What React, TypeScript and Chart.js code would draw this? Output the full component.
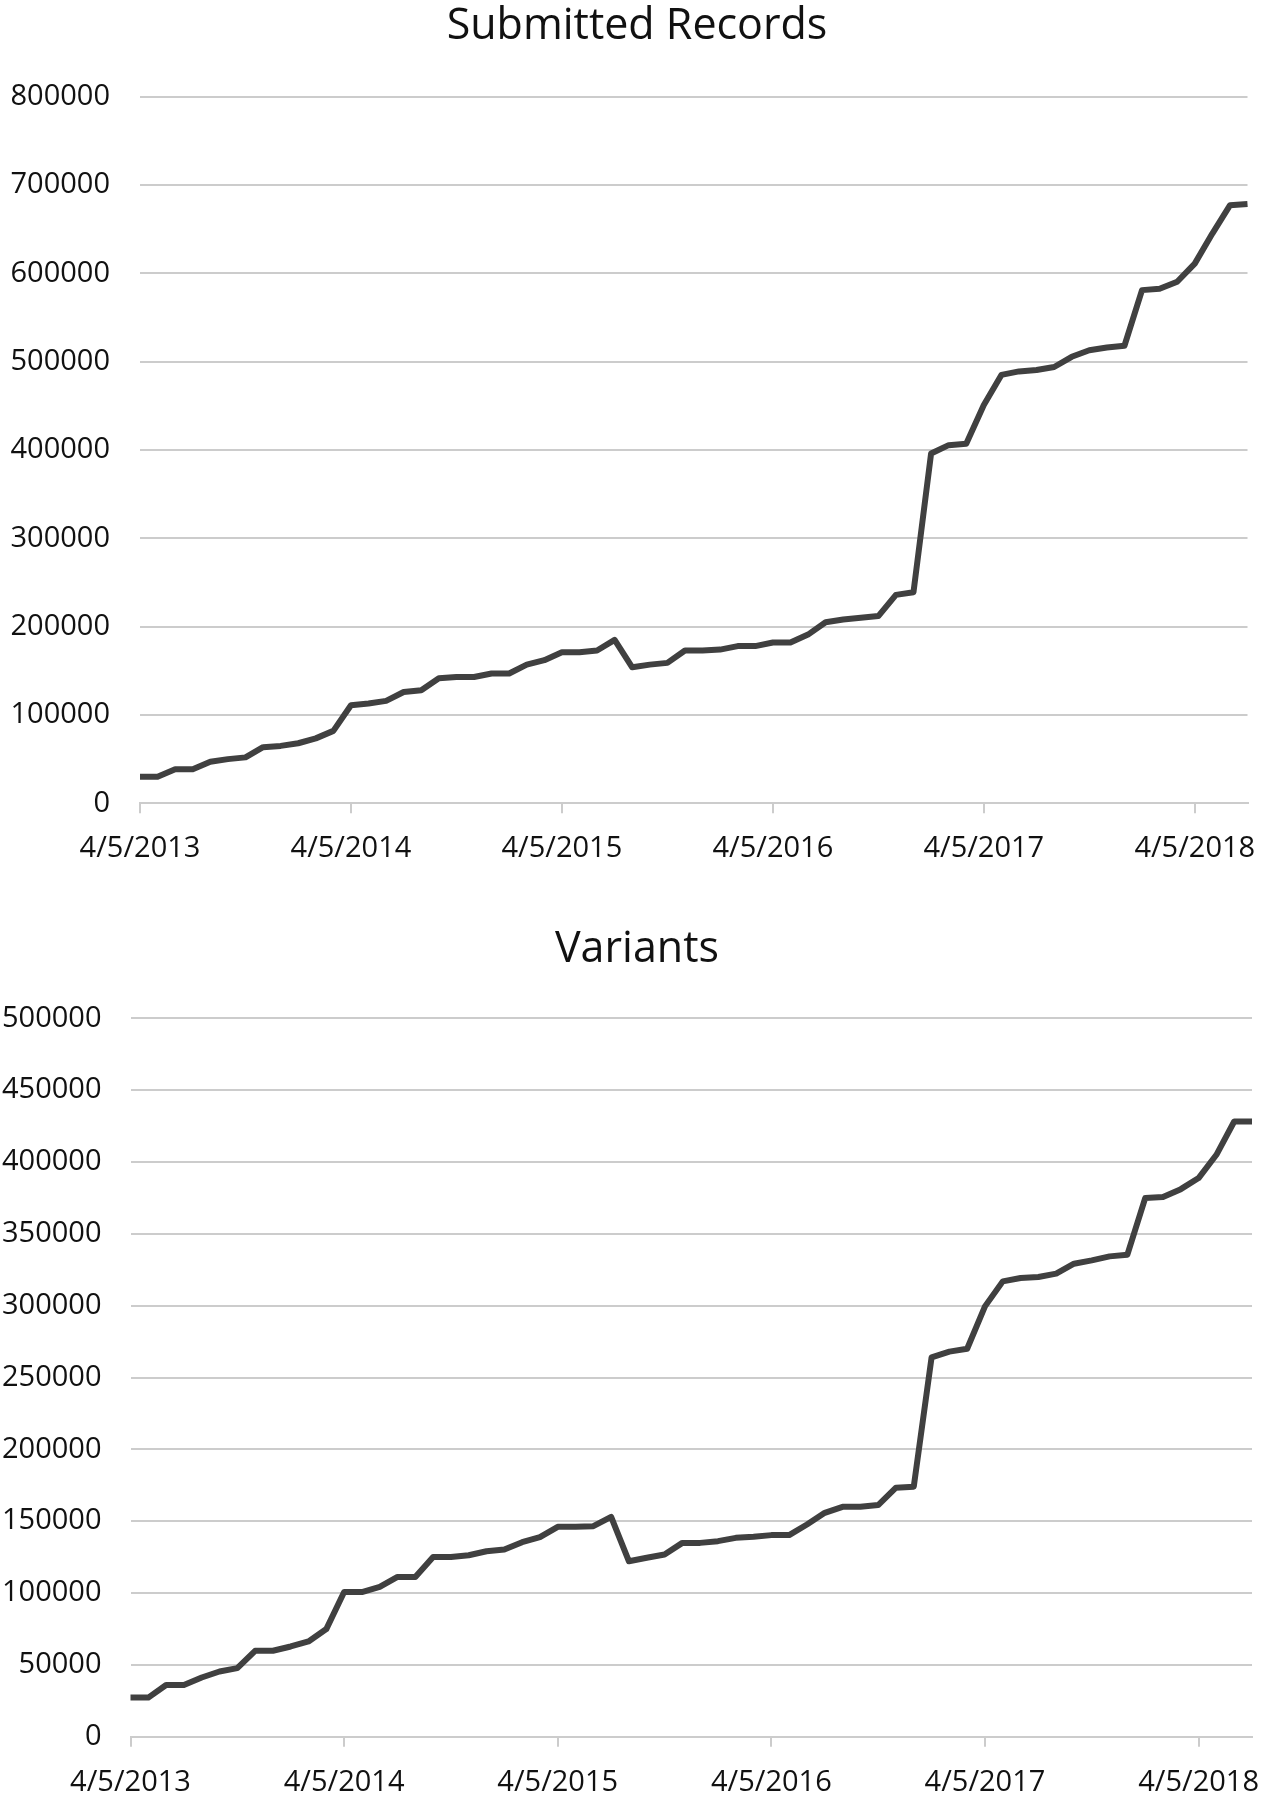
import React, { useEffect, useRef } from 'react';
import { Chart, registerables } from 'chart.js';

Chart.register(...registerables);

// ---- data ----
const dates = [
  '4/5/2013', '5/5/2013', '6/5/2013', '7/5/2013', '8/5/2013', '9/5/2013', '10/5/2013', '11/5/2013', '12/5/2013',
  '1/5/2014', '2/5/2014', '3/5/2014', '4/5/2014', '5/5/2014', '6/5/2014', '7/5/2014', '8/5/2014', '9/5/2014', '10/5/2014', '11/5/2014', '12/5/2014',
  '1/5/2015', '2/5/2015', '3/5/2015', '4/5/2015', '5/5/2015', '6/5/2015', '7/5/2015', '8/5/2015', '9/5/2015', '10/5/2015', '11/5/2015', '12/5/2015',
  '1/5/2016', '2/5/2016', '3/5/2016', '4/5/2016', '5/5/2016', '6/5/2016', '7/5/2016', '8/5/2016', '9/5/2016', '10/5/2016', '11/5/2016', '12/5/2016',
  '1/5/2017', '2/5/2017', '3/5/2017', '4/5/2017', '5/5/2017', '6/5/2017', '7/5/2017', '8/5/2017', '9/5/2017', '10/5/2017', '11/5/2017', '12/5/2017',
  '1/5/2018', '2/5/2018', '3/5/2018', '4/5/2018', '5/5/2018', '6/5/2018', '7/5/2018',
];

const shownDateLabels = ['4/5/2013', '4/5/2014', '4/5/2015', '4/5/2016', '4/5/2017', '4/5/2018'];

const submittedRecords = [
  30000, 30000, 38500, 38500, 47000, 50000, 52000, 63500, 65000, 68000, 73500, 82000,
  111000, 113000, 116000, 126000, 128000, 141500, 143000, 143000, 147000, 147000, 157000, 162000,
  171000, 171000, 173000, 185000, 154000, 157000, 159000, 173000, 173000, 174000, 178000, 178000,
  182000, 182000, 191000, 205000, 208000, 210000, 212000, 236000, 239000, 396000, 405500, 407000,
  451000, 485000, 489000, 490500, 494000, 505500, 513000, 516000, 518000, 581000, 582500, 590500,
  611000, 645000, 677000, 678500,
];

const variants = [
  27200, 27200, 36000, 36000, 41200, 45400, 47700, 59800, 59800, 62800, 66300, 74900,
  100700, 100700, 104200, 111200, 111200, 125100, 125100, 126300, 129100, 130300, 135400, 138900,
  146100, 146100, 146500, 153000, 122100, 124500, 126800, 134900, 134900, 136100, 138400, 139100,
  140300, 140300, 147700, 155800, 160000, 160000, 161200, 173300, 174000, 264000, 268000, 270000,
  299500, 316900, 319200, 319900, 322300, 329200, 331500, 334300, 335500, 374900, 375600, 381100,
  388800, 405000, 428200, 428200,
];

const recordsAxis = [0, 800000, 100000];
const variantsAxis = [0, 500000, 50000];

// ---- styling ----
const FONT = "'Open Sans', sans-serif";
const TEXT = '#111111';
const GRID = '#cccccc';
const LINE = '#404040';

type Geom = {
  top: number;
  height: number;
  padTop: number;
  titleX: number;
  titleBaseline: number;
  yAxisWidth: number;
  xAxisHeight: number;
  padRight: number;
  xLabelPad: number;
  yLabelPad: number;
};

function LineChart({ title, values, axis, geom }: { title: string; values: number[]; axis: number[]; geom: Geom }) {
  const ref = useRef<HTMLCanvasElement | null>(null);
  useEffect(() => {
    if (!ref.current) return;
    const titlePlugin = {
      id: 'centredTitle',
      afterDraw(chart: any) {
        const ctx = chart.ctx;
        ctx.save();
        ctx.font = `normal 43px ${FONT}`;
        ctx.fillStyle = TEXT;
        ctx.textAlign = 'center';
        ctx.textBaseline = 'alphabetic';
        ctx.fillText(title, geom.titleX, geom.titleBaseline);
        ctx.restore();
      },
    };
    const chart = new Chart(ref.current, {
      type: 'line',
      data: {
        labels: dates,
        datasets: [
          {
            data: values,
            borderColor: LINE,
            borderWidth: 6,
            pointRadius: 0,
            tension: 0,
            fill: false,
            borderJoinStyle: 'round',
          },
        ],
      },
      plugins: [titlePlugin],
      options: {
        animation: false,
        responsive: false,
        maintainAspectRatio: false,
        layout: { padding: { top: geom.padTop, left: 0, right: geom.padRight, bottom: 0 } },
        plugins: {
          legend: { display: false },
          tooltip: { enabled: false },
          title: { display: false },
        },
        scales: {
          x: {
            type: 'category',
            offset: false,
            afterFit: (scale: any) => {
              scale.height = geom.xAxisHeight;
              scale.paddingLeft = 0;
              scale.paddingRight = 0;
            },
            grid: {
              display: true,
              drawOnChartArea: false,
              drawTicks: true,
              tickLength: 10,
              color: GRID,
              lineWidth: 2,
            },
            border: { display: true, color: GRID, width: 2 },
            ticks: {
              autoSkip: false,
              maxRotation: 0,
              minRotation: 0,
              padding: geom.xLabelPad,
              color: TEXT,
              font: { family: FONT, size: 29, lineHeight: 1.2 },
              callback: function (this: any, value: any) {
                const lbl = dates[value as number];
                return shownDateLabels.includes(lbl) ? lbl : null;
              },
            },
          },
          y: {
            min: axis[0],
            max: axis[1],
            afterFit: (scale: any) => {
              scale.width = geom.yAxisWidth;
            },
            grid: { color: GRID, lineWidth: 2, drawTicks: false },
            border: { display: false },
            ticks: {
              stepSize: axis[2],
              padding: geom.yLabelPad,
              color: TEXT,
              font: { family: FONT, size: 29, lineHeight: 1.2 },
              callback: (v: any) => String(v),
            },
          },
        },
      },
    });
    return () => chart.destroy();
  }, [title, values, axis, geom]);

  return (
    <canvas
      ref={ref}
      width={1268}
      height={geom.height}
      style={{ position: 'absolute', left: 0, top: geom.top, width: 1268, height: geom.height, display: 'block' }}
    />
  );
}

const geomTop: Geom = {
  top: 0,
  height: 900,
  padTop: 96.7,
  titleX: 637,
  titleBaseline: 38.5,
  yAxisWidth: 140,
  xAxisHeight: 96.7,
  padRight: 20.5,
  xLabelPad: 18,
  yLabelPad: 30,
};

const geomBottom: Geom = {
  top: 900,
  height: 900,
  padTop: 118.3,
  titleX: 637,
  titleBaseline: 62,
  yAxisWidth: 130.5,
  xAxisHeight: 63.3,
  padRight: 16,
  xLabelPad: 19,
  yLabelPad: 29,
};

export default function App() {
  return (
    <div style={{ position: 'absolute', left: 0, top: 0, width: 1268, height: 1800, background: '#ffffff' }}>
      <LineChart title="Submitted Records" values={submittedRecords} axis={recordsAxis} geom={geomTop} />
      <LineChart title="Variants" values={variants} axis={variantsAxis} geom={geomBottom} />
    </div>
  );
}
